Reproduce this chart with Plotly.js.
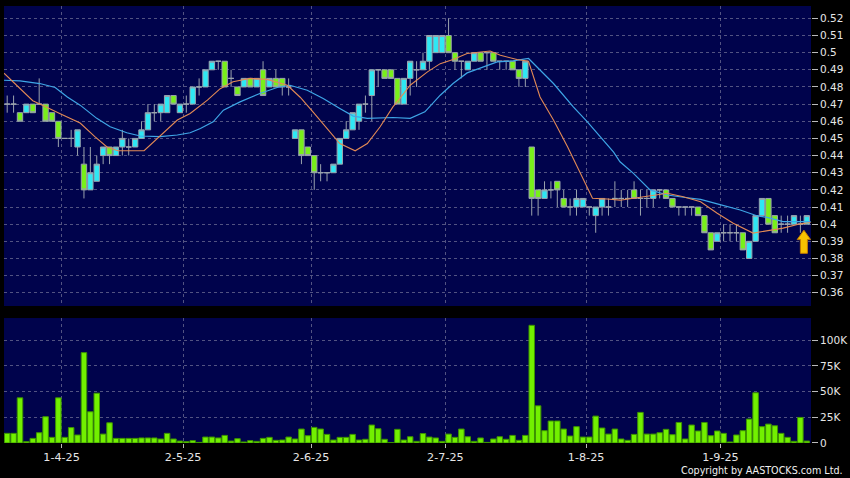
<!DOCTYPE html>
<html><head><meta charset="utf-8">
<script src="https://cdn.plot.ly/plotly-3.0.1.min.js"></script>
<style>html,body{margin:0;padding:0;background:#000;}#chart{width:850px;height:478px;}</style>
</head><body><div id="chart"></div>
<script>
const dates = [
'2025-03-19','2025-03-20','2025-03-21','2025-03-24','2025-03-25','2025-03-26','2025-03-27','2025-03-28','2025-03-31',
'2025-04-01','2025-04-02','2025-04-03','2025-04-07','2025-04-08','2025-04-09','2025-04-10','2025-04-11','2025-04-14','2025-04-15','2025-04-16','2025-04-17','2025-04-22','2025-04-23','2025-04-24','2025-04-25','2025-04-28','2025-04-29','2025-04-30',
'2025-05-02','2025-05-06','2025-05-07','2025-05-08','2025-05-09','2025-05-12','2025-05-13','2025-05-14','2025-05-15','2025-05-16','2025-05-19','2025-05-20','2025-05-21','2025-05-22','2025-05-23','2025-05-26','2025-05-27','2025-05-28','2025-05-29','2025-05-30',
'2025-06-02','2025-06-03','2025-06-04','2025-06-05','2025-06-06','2025-06-09','2025-06-10','2025-06-11','2025-06-12','2025-06-13','2025-06-16','2025-06-17','2025-06-18','2025-06-19','2025-06-20','2025-06-23','2025-06-24','2025-06-25','2025-06-26','2025-06-27','2025-06-30',
'2025-07-02','2025-07-03','2025-07-04','2025-07-07','2025-07-08','2025-07-09','2025-07-10','2025-07-11','2025-07-14','2025-07-15','2025-07-16','2025-07-17','2025-07-18','2025-07-21','2025-07-22','2025-07-23','2025-07-24','2025-07-25','2025-07-28','2025-07-29','2025-07-30','2025-07-31',
'2025-08-01','2025-08-04','2025-08-05','2025-08-06','2025-08-07','2025-08-08','2025-08-11','2025-08-12','2025-08-13','2025-08-14','2025-08-15','2025-08-18','2025-08-19','2025-08-20','2025-08-21','2025-08-22','2025-08-25','2025-08-26','2025-08-27','2025-08-28','2025-08-29',
'2025-09-01','2025-09-02','2025-09-03','2025-09-04','2025-09-05','2025-09-08','2025-09-09','2025-09-10','2025-09-11','2025-09-12','2025-09-15','2025-09-16','2025-09-17','2025-09-18'
];
const openP = [
0.47,0.47,0.465,0.465,0.47,0.47,0.47,0.465,0.46,0.45,
0.45,0.445,0.435,0.42,0.425,0.44,0.445,0.44,0.445,0.445,
0.445,0.45,0.455,0.465,0.465,0.465,0.475,0.465,0.47,0.47,
0.48,0.48,0.49,0.495,0.495,0.485,0.48,0.48,0.485,0.48,
0.49,0.48,0.485,0.485,0.48,0.45,0.455,0.445,0.44,0.43,
0.43,0.43,0.435,0.45,0.455,0.46,0.47,0.475,0.49,0.49,
0.49,0.485,0.47,0.485,0.49,0.49,0.495,0.50,0.50,0.51,
0.50,0.495,0.49,0.495,0.50,0.50,0.50,0.495,0.495,0.495,
0.49,0.485,0.445,0.42,0.415,0.42,0.425,0.415,0.41,0.41,
0.41,0.41,0.405,0.41,0.41,0.415,0.415,0.415,0.42,0.415,
0.415,0.415,0.42,0.42,0.415,0.41,0.41,0.41,0.41,0.405,
0.395,0.39,0.395,0.395,0.395,0.395,0.38,0.39,0.405,0.415,
0.405,0.40,0.40,0.40,0.40,0.40];
const highP = [
0.475,0.475,0.465,0.47,0.47,0.485,0.47,0.465,0.46,0.45,
0.455,0.455,0.445,0.445,0.44,0.445,0.445,0.445,0.455,0.45,
0.45,0.46,0.47,0.47,0.47,0.475,0.475,0.47,0.475,0.48,
0.485,0.49,0.495,0.495,0.495,0.49,0.48,0.485,0.485,0.485,
0.495,0.485,0.49,0.485,0.485,0.455,0.455,0.445,0.44,0.435,
0.43,0.435,0.45,0.46,0.465,0.47,0.475,0.49,0.49,0.49,
0.49,0.485,0.485,0.495,0.495,0.50,0.51,0.51,0.51,0.52,
0.50,0.495,0.495,0.50,0.50,0.50,0.50,0.495,0.495,0.495,
0.49,0.495,0.445,0.42,0.425,0.425,0.425,0.42,0.415,0.42,
0.415,0.41,0.41,0.415,0.415,0.425,0.42,0.42,0.425,0.42,
0.42,0.42,0.42,0.42,0.415,0.41,0.41,0.41,0.41,0.405,
0.395,0.395,0.40,0.40,0.40,0.395,0.39,0.405,0.415,0.415,
0.405,0.405,0.405,0.405,0.405,0.405];
const lowP = [
0.465,0.465,0.46,0.465,0.465,0.47,0.46,0.46,0.445,0.45,
0.445,0.44,0.415,0.42,0.425,0.435,0.435,0.44,0.44,0.44,
0.445,0.45,0.455,0.46,0.46,0.465,0.47,0.465,0.465,0.47,
0.475,0.48,0.49,0.49,0.48,0.48,0.475,0.48,0.48,0.48,
0.475,0.48,0.48,0.475,0.475,0.45,0.435,0.44,0.42,0.425,
0.425,0.43,0.435,0.45,0.455,0.455,0.465,0.46,0.48,0.485,
0.485,0.47,0.47,0.475,0.48,0.49,0.49,0.50,0.50,0.50,
0.49,0.485,0.49,0.495,0.495,0.49,0.495,0.49,0.49,0.49,
0.48,0.48,0.405,0.405,0.415,0.415,0.41,0.41,0.405,0.405,
0.41,0.405,0.395,0.405,0.405,0.41,0.41,0.41,0.415,0.405,
0.41,0.41,0.415,0.415,0.41,0.405,0.405,0.405,0.405,0.395,
0.385,0.39,0.39,0.39,0.39,0.385,0.38,0.39,0.405,0.40,
0.395,0.395,0.395,0.40,0.395,0.40];
const closeP = [
0.47,0.47,0.46,0.47,0.465,0.47,0.46,0.46,0.45,0.45,
0.45,0.455,0.42,0.43,0.435,0.445,0.44,0.445,0.45,0.445,
0.45,0.455,0.465,0.465,0.47,0.475,0.47,0.47,0.47,0.48,
0.48,0.49,0.495,0.495,0.48,0.485,0.475,0.485,0.48,0.485,
0.475,0.485,0.48,0.48,0.48,0.455,0.44,0.44,0.43,0.43,
0.43,0.435,0.45,0.455,0.465,0.47,0.47,0.49,0.49,0.485,
0.485,0.47,0.485,0.495,0.49,0.495,0.51,0.51,0.51,0.50,
0.495,0.495,0.495,0.50,0.495,0.50,0.495,0.495,0.495,0.49,
0.485,0.495,0.415,0.415,0.42,0.42,0.42,0.41,0.41,0.415,
0.415,0.41,0.41,0.415,0.41,0.415,0.415,0.415,0.415,0.415,
0.415,0.42,0.42,0.415,0.41,0.41,0.41,0.41,0.405,0.395,
0.385,0.395,0.395,0.395,0.395,0.385,0.39,0.405,0.415,0.40,
0.395,0.40,0.40,0.405,0.40,0.405];
const volumeK = [
9.4,9.4,44,1.3,4.5,10,25.6,5.5,44,5.5,
15,7.8,88,30.4,48.5,8.7,19.7,4.5,4.5,4.5,
4.5,4.9,4.9,4.9,3.9,9.4,3.9,1.9,1.3,2.3,
0.6,5.8,5.8,4.9,7.4,1.9,4.2,1,2.3,1.6,
4.5,5.5,2.6,2.9,5.8,3.9,13.6,7.1,15.2,13.6,
8.4,2.9,5.5,5.5,8.4,2.9,3.6,17.5,13.9,3.6,
0.3,13.3,2.9,6.1,1.6,9.2,5.8,4.9,1.6,8.7,
5.5,13.6,6.1,1.6,4.9,0.6,3.9,6.1,3.6,7.4,
2.6,7.4,114.6,36.2,12,21.4,21.4,13.6,6.8,15.9,
5.8,5.8,26.2,14.6,8.7,13.6,3.9,2.6,8.4,29.8,
8.7,8.7,10,13.3,8.1,20,3.9,17.5,11.7,20,
7.1,11.7,9.4,1,7.8,12,23.3,48.9,15.9,18.4,
16.8,9.4,5.5,1.6,24.9,1.9];
// moving-average lines (bar position, value)
const maFastPos = [-0.5,4,5.1,7.2,8.7,11.4,13.7,15.6,17.3,21.4,24.4,26.6,28.6,31.3,33.3,35.3,38,40.6,43.8,45.8,47.8,50,52,54.4,56.3,58.3,60.3,61.4,63,65.7,67.7,69.7,71.9,75.5,77.1,79.7,81.5,83.3,85.4,87.6,89.6,91.5,93.8,95.8,99,103.2,105.7,108.4,111,113.5,116.6,118.2,121.3,124,125.6];
const maFastVal = [0.488,0.472,0.470,0.4665,0.4636,0.459,0.451,0.445,0.4428,0.4428,0.453,0.4607,0.4645,0.4723,0.479,0.483,0.485,0.4844,0.481,0.474,0.4655,0.4558,0.447,0.4428,0.447,0.4568,0.4684,0.4733,0.481,0.4888,0.4936,0.496,0.4995,0.501,0.4985,0.496,0.495,0.4742,0.4607,0.4451,0.4296,0.4151,0.4147,0.414,0.4157,0.418,0.416,0.4131,0.4064,0.4006,0.3948,0.3957,0.3977,0.4002,0.401];
const maSlowPos = [-0.5,2,5.1,7.5,9.4,11.4,14,16.1,18.7,20.8,23.9,26.6,28.6,30.2,32.2,33.8,36.4,39.5,42.2,44.2,46.9,49.4,52,54.1,56.3,60.3,63,65.3,67.7,69.7,71.9,74.4,76.6,79.1,81.5,85.4,88.5,90.7,92.7,94.8,95.8,97.9,100.5,103.2,105.7,108.4,111,114.6,117.3,118.8,121.3,125.6];
const maSlowVal = [0.4839,0.4835,0.482,0.4797,0.4742,0.4694,0.4617,0.4568,0.4533,0.4514,0.451,0.452,0.4533,0.4558,0.4597,0.4665,0.4713,0.4762,0.4797,0.481,0.4781,0.4733,0.4675,0.463,0.4617,0.4622,0.4617,0.4655,0.4752,0.482,0.4882,0.4917,0.4946,0.4952,0.4966,0.482,0.4684,0.4597,0.451,0.442,0.4364,0.4296,0.42,0.417,0.4157,0.4145,0.4118,0.4083,0.4048,0.404,0.4015,0.4015];
const priceTicks = [0.36,0.37,0.38,0.39,0.40,0.41,0.42,0.43,0.44,0.45,0.46,0.47,0.48,0.49,0.50,0.51,0.52];
const volTicks = [0,25,50,75,100];
const volTickText = ['0','25K','50K','75K','100K'];
const monthTickDates = ['2025-04-01','2025-05-02','2025-06-02','2025-07-02','2025-08-01','2025-09-01'];
const monthTickText = ['1-4-25','2-5-25','2-6-25','2-7-25','1-8-25','1-9-25'];

const idx = dates.map((d, i) => i);
const lastI = dates.length - 1;
const gridCol = 'rgba(150,150,175,0.55)';
const fam = 'DejaVu Sans, Verdana, sans-serif';
const yFont = {family: fam, size: 10.5, color: '#e6e6e6'};
const xFont = {family: fam, size: 11.2, color: '#e6e6e6'};

const traces = [
  {type: 'bar', x: idx, y: volumeK, xaxis: 'x', yaxis: 'y2', width: 0.86,
   marker: {color: '#72f000', line: {color: '#3d9400', width: 1}}, hoverinfo: 'skip'},
  {type: 'scatter', mode: 'lines', x: maSlowPos, y: maSlowVal, xaxis: 'x', yaxis: 'y',
   line: {color: '#3ea6e6', width: 1.2}, hoverinfo: 'skip'},
  {type: 'scatter', mode: 'lines', x: maFastPos, y: maFastVal, xaxis: 'x', yaxis: 'y',
   line: {color: '#e28a55', width: 1.1}, hoverinfo: 'skip'},
  {type: 'candlestick', x: idx, open: openP, high: highP, low: lowP, close: closeP,
   xaxis: 'x', yaxis: 'y', whiskerwidth: 0, hoverinfo: 'skip',
   increasing: {fillcolor: '#2ee8f4', line: {color: '#9aa3ad', width: 1}},
   decreasing: {fillcolor: '#78f01a', line: {color: '#9aa3ad', width: 1}}}
];

const cx = lastI - 0.45;
const yt = closeP[lastI] - 0.0085, yh = yt - 0.0055, yb = yt - 0.0135;
const arrowPath = `M ${cx-0.55},${yb} L ${cx+0.55},${yb} L ${cx+0.55},${yh} L ${cx+1.05},${yh} L ${cx},${yt} L ${cx-1.05},${yh} L ${cx-0.55},${yh} Z`;

const layout = {
  width: 850, height: 478,
  margin: {l: 4, r: 39, t: 6, b: 35},
  paper_bgcolor: '#000000', plot_bgcolor: '#00034c',
  showlegend: false, boxgap: 0.16, boxgroupgap: 0,
  font: yFont,
  xaxis: {
    anchor: 'y2', range: [-0.5, 125.66], rangeslider: {visible: false},
    tickmode: 'array', tickvals: monthTickDates.map(d => dates.indexOf(d) - 0.5), ticktext: monthTickText,
    ticks: 'outside', ticklen: 4, tickcolor: '#bbbbbb',
    showgrid: true, gridcolor: gridCol, griddash: '3px,3px', gridwidth: 1,
    zeroline: false, showline: false, tickfont: xFont, fixedrange: true
  },
  yaxis: {
    domain: [0.3135, 1], range: [0.3523, 0.5272], side: 'right', anchor: 'x',
    tickmode: 'array', tickvals: priceTicks, ticktext: priceTicks.map(v => String(v)),
    ticks: 'outside', ticklen: 6, tickcolor: '#bbbbbb',
    showgrid: true, gridcolor: gridCol, griddash: '3px,3px', gridwidth: 1,
    zeroline: false, showline: false, tickfont: yFont, fixedrange: true
  },
  yaxis2: {
    domain: [0, 0.286], range: [0, 121.7], side: 'right', anchor: 'x',
    tickmode: 'array', tickvals: volTicks, ticktext: volTickText,
    ticks: 'outside', ticklen: 6, tickcolor: '#bbbbbb',
    showgrid: true, gridcolor: gridCol, griddash: '3px,3px', gridwidth: 1,
    zeroline: false, showline: false, tickfont: yFont, fixedrange: true
  },
  shapes: [
    {type: 'path', xref: 'x', yref: 'y', path: arrowPath, fillcolor: '#f7c200',
     line: {color: '#c27a00', width: 1}, layer: 'above'}
  ],
  annotations: [
    {text: 'Copyright by AASTOCKS.com Ltd.', xref: 'paper', yref: 'paper',
     x: 1.0425, y: -0.062, xanchor: 'right', yanchor: 'middle', showarrow: false,
     font: {family: fam, size: 9.6, color: '#f0f0f0'}}
  ]
};

Plotly.newPlot('chart', traces, layout, {displayModeBar: false, staticPlot: true});
</script>
</body></html>
